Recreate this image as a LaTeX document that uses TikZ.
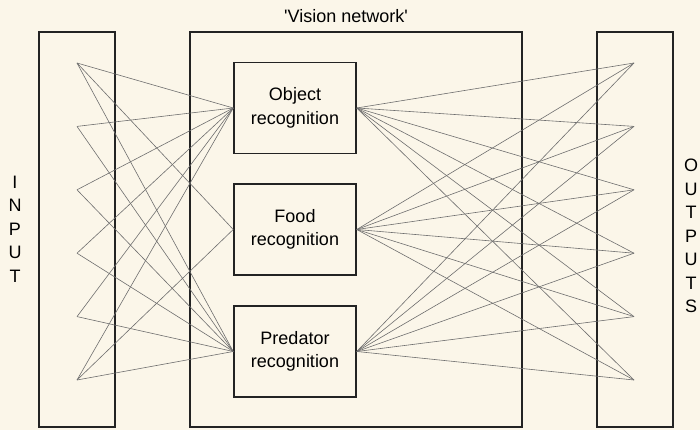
\documentclass[tikz,border=0pt]{standalone}
\usepackage{fontspec}
\setmainfont{Liberation Sans}
\usepackage{tikz}
\usetikzlibrary{positioning, calc}
\definecolor{papier}{RGB}{251,246,233}
\definecolor{rahmen}{RGB}{35,35,35}
\definecolor{netz}{RGB}{110,110,110}
\tikzset{
  kasten/.style={draw=rahmen, line width=1.5pt, inner sep=0pt},
  schicht/.style={kasten, minimum width=76pt, minimum height=395pt},
  erkenner/.style={kasten, minimum width=122pt, minimum height=91pt, align=center},
  schrift/.style={font=\fontsize{18}{23.5}\selectfont},
  verbindung/.style={draw=netz, line width=0.6pt}
}

\begin{document}
\begin{tikzpicture}[x=1pt, y=-1pt, schrift]

         % Hintergrund und Rahmen des Bildes
         \fill[papier] (0,0) rectangle (700,430);
         \useasboundingbox (0,0) rectangle (700,430);

         % Eingabe- und Ausgabeschicht
         \node[schicht] (inputbox) at (77,229.5) {};
         \node[schicht] (outputbox) at (635,229.5) {};

         % Vision network (grosser Kasten)
         \node[kasten, minimum width=332pt, minimum height=395pt] (vision) at (356,229.5) {};
         \node (visionlabel) at (346,16) {\textquotesingle Vision network\textquotesingle};

         % drei Erkennungsmodule
         \node[erkenner] (obj)  at (295,108)   {Object\\recognition};
         \node[erkenner] (food) at (295,229.5) {Food\\recognition};
         \node[erkenner] (pred) at (295,351.5) {Predator\\recognition};

         % Beschriftung links und rechts
         \node[align=center] (inlabel)  at (15,229)  {I\\N\\P\\U\\T};
         \node[align=center] (outlabel) at (691,236) {O\\U\\T\\P\\U\\T\\S};

         % Knotenpunkte der Ein- und Ausgaenge
         \def\dy{63.4} % Abstand der Punkte
         \foreach \i in {1,...,6} {
            \coordinate (in\i)  at (77,{63+(\i-1)*\dy});
            \coordinate (out\i) at (634,{63+(\i-1)*\dy});
         }

         % Eingaenge -> Module
         \foreach \i in {1,...,6} {
            \draw[verbindung] (in\i) -- (obj.west);
            \draw[verbindung] (in\i) -- (pred.west);
         }
         \foreach \i in {1,6}
            \draw[verbindung] (in\i) -- (food.west);

         % Module -> Ausgaenge
         \foreach \m in {obj,food,pred}
            \foreach \i in {1,...,6}
               \draw[verbindung] (\m.east) -- (out\i);

\end{tikzpicture}
\end{document}
